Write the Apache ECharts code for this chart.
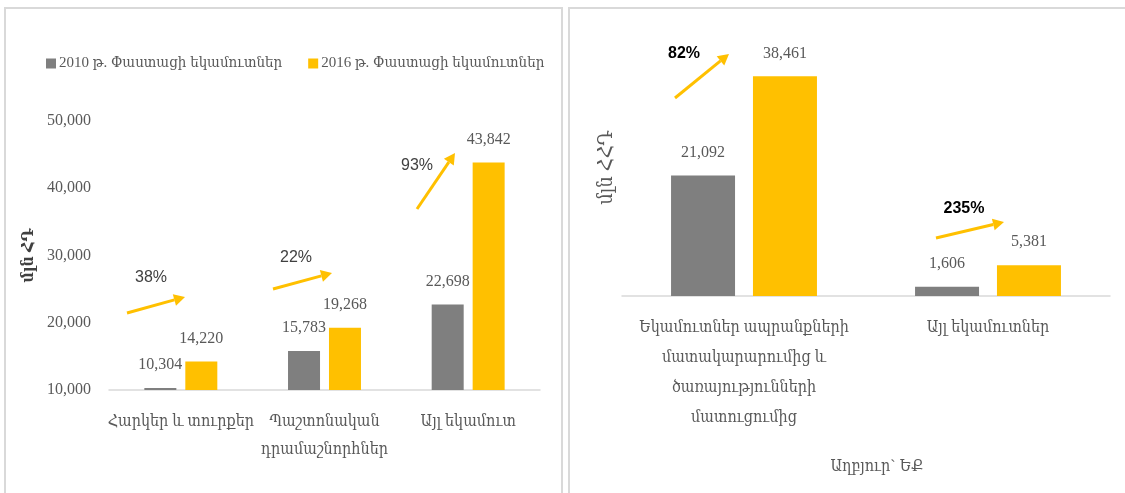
<!DOCTYPE html>
<html>
<head>
<meta charset="utf-8">
<script src="https://cdn.jsdelivr.net/npm/echarts@6/dist/echarts.min.js"></script>
<style>
  html, body { margin: 0; padding: 0; background: #fff; }
  #chart { width: 1125px; height: 493px; }
</style>
</head>
<body>
<div id="chart"></div>
<script>
// ձախ գրաֆիկ
const leftCategories = ['Հարկեր և տուրքեր', 'Պաշտոնական\nդրամաշնորհներ', 'Այլ եկամուտ']
const left2010 = [10304, 15783, 22698]
const left2016 = [14220, 19268, 43842]
const leftGrowth = ['38%', '22%', '93%']

// աջ գրաֆիկ
const rightCategories = ['Եկամուտներ ապրանքների\nմատակարարումից և\nծառայությունների\nմատուցումից', 'Այլ եկամուտներ']
const right2010 = [21092, 1606]
const right2016 = [38461, 5381]
const rightGrowth = ['82%', '235%']

const seriesNames = ['2010 թ. Փաստացի եկամուտներ', '2016 թ. Փաստացի եկամուտներ']
const yTitles = ['մլն ՀԴ', 'մլն ՀՀԴ']
const sourceText = 'Աղբյուր` ԵՔ'

const GRAY = '#7f7f7f'
const YELLOW = '#ffc000'
const TXT = '#595959'
const FONT = "'Liberation Serif', 'DejaVu Serif Condensed', serif"
const PFONT = "'Liberation Sans Narrow', 'Liberation Sans', 'DejaVu Sans Condensed', sans-serif"

const fmt = (v) => Number(v).toLocaleString('en-US')

// սլաք՝ գիծ + եռանկյուն ծայր
function arrow(x1, y1, x2, y2) {
  const a = Math.atan2(y2 - y1, x2 - x1)
  const len = 11, w = 6
  const bx = x2 - len * Math.cos(a), by = y2 - len * Math.sin(a)
  const px = -Math.sin(a) * w, py = Math.cos(a) * w
  return [
    { type: 'line', shape: { x1, y1, x2: bx, y2: by }, style: { stroke: YELLOW, lineWidth: 3 } },
    { type: 'polygon', shape: { points: [[x2, y2], [bx + px, by + py], [bx - px, by - py]] }, style: { fill: YELLOW } }
  ]
}
function pctText(t, x, y, bold) {
  return {
    type: 'text', x, y,
    style: { text: t, fill: bold ? '#000' : '#404040', font: (bold ? 'bold ' : '') + '16px ' + PFONT, align: 'center', verticalAlign: 'middle' }
  }
}

const barLabel = {
  show: true, position: 'top', distance: 15,
  color: TXT, fontSize: 16, fontFamily: FONT,
  formatter: (p) => fmt(p.value)
}

const chart = echarts.init(document.getElementById('chart'))
chart.setOption({
  animation: false,
  textStyle: { fontFamily: FONT },
  legend: {
    data: seriesNames,
    left: 41, top: 51,
    itemWidth: 10, itemHeight: 10, itemGap: 26,
    icon: 'rect',
    textStyle: { color: TXT, fontSize: 15, fontFamily: FONT, padding: [0, 0, 0, -2] }
  },
  grid: [
    { left: 109, right: 585, top: 121, bottom: 103 },
    { left: 622, right: 15, top: 39, bottom: 197 }
  ],
  xAxis: [
    {
      type: 'category', gridIndex: 0, data: leftCategories,
      axisLine: { lineStyle: { color: '#d9d9d9', width: 1.5 } },
      axisTick: { show: false },
      axisLabel: { color: TXT, fontSize: 16, fontFamily: FONT, lineHeight: 28, margin: 18, interval: 0 }
    },
    {
      type: 'category', gridIndex: 1, data: rightCategories,
      axisLine: { lineStyle: { color: '#d9d9d9', width: 1.5 } },
      axisTick: { show: false },
      axisLabel: { color: TXT, fontSize: 16, fontFamily: FONT, lineHeight: 30, margin: 17, interval: 0 }
    }
  ],
  yAxis: [
    {
      type: 'value', gridIndex: 0, min: 10000, max: 50000, interval: 10000,
      name: yTitles[0], nameLocation: 'middle', nameRotate: 90, nameGap: 72,
      nameTextStyle: { color: '#404040', fontSize: 16, fontWeight: 'bold', fontFamily: FONT },
      splitLine: { show: false }, axisLine: { show: false }, axisTick: { show: false },
      axisLabel: { color: TXT, fontSize: 16, fontFamily: FONT, margin: 18, formatter: fmt }
    },
    {
      type: 'value', gridIndex: 1, min: 0, max: 45000,
      name: yTitles[1], nameLocation: 'middle', nameRotate: 90, nameGap: 5,
      nameTextStyle: { color: TXT, fontSize: 20, fontFamily: FONT },
      splitLine: { show: false }, axisLine: { show: false }, axisTick: { show: false },
      axisLabel: { show: false }
    }
  ],
  series: [
    { name: seriesNames[0], type: 'bar', xAxisIndex: 0, yAxisIndex: 0, data: left2010, itemStyle: { color: GRAY }, barWidth: 32, barGap: '28%', label: barLabel },
    { name: seriesNames[1], type: 'bar', xAxisIndex: 0, yAxisIndex: 0, data: left2016, itemStyle: { color: YELLOW }, barWidth: 32, barGap: '28%', label: barLabel },
    { name: seriesNames[0], type: 'bar', xAxisIndex: 1, yAxisIndex: 1, data: right2010, itemStyle: { color: GRAY }, barWidth: 64, barGap: '28%', label: barLabel },
    { name: seriesNames[1], type: 'bar', xAxisIndex: 1, yAxisIndex: 1, data: right2016, itemStyle: { color: YELLOW }, barWidth: 64, barGap: '28%', label: barLabel }
  ],
  graphic: [
    { type: 'rect', shape: { x: 5, y: 8, width: 557, height: 500 }, style: { fill: 'none', stroke: '#d9d9d9', lineWidth: 2 }, silent: true },
    { type: 'rect', shape: { x: 569, y: 8, width: 580, height: 500 }, style: { fill: 'none', stroke: '#d9d9d9', lineWidth: 2 }, silent: true },
    ...arrow(127, 313, 185, 297),
    ...arrow(273, 289, 332, 273),
    ...arrow(417, 209, 455, 153),
    ...arrow(675, 98, 729, 54),
    ...arrow(936, 238, 1004, 222),
    pctText(leftGrowth[0], 151, 278, false),
    pctText(leftGrowth[1], 296, 258, false),
    pctText(leftGrowth[2], 417, 166, false),
    pctText(rightGrowth[0], 684, 54, true),
    pctText(rightGrowth[1], 964, 209, true),
    {
      type: 'text', x: 877, y: 467,
      style: { text: sourceText, fill: TXT, font: '16px ' + FONT, align: 'center', verticalAlign: 'middle' }
    }
  ]
})
</script>
</body>
</html>
